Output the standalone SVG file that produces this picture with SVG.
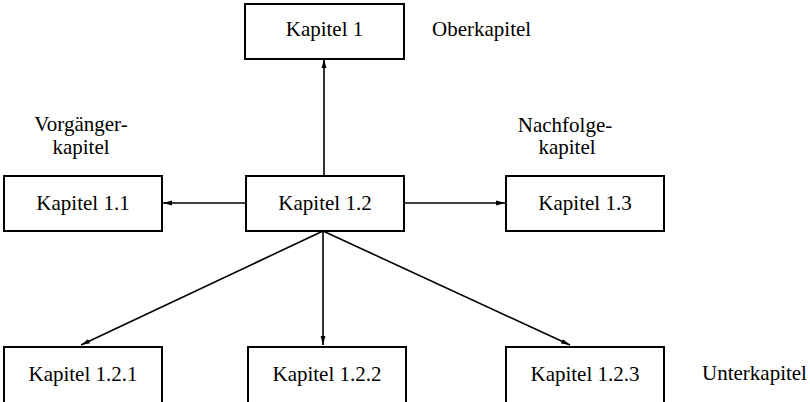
<svg xmlns="http://www.w3.org/2000/svg" width="810" height="402" viewBox="0 0 810 402">
<defs>
<marker id="ah" markerWidth="10" markerHeight="6" refX="9" refY="3" orient="auto" markerUnits="userSpaceOnUse">
<path d="M0,0.6 L9,3 L0,5.4 Z" fill="#000"/>
</marker>
</defs>
<g id="connectors" stroke="#000" stroke-width="1.6" fill="none" marker-end="url(#ah)">
<line x1="324" y1="176" x2="324" y2="59"/>
<line x1="246" y1="203" x2="163" y2="203"/>
<line x1="404" y1="203" x2="505" y2="203"/>
<line x1="323" y1="231" x2="81" y2="345"/>
<line x1="323" y1="231" x2="323" y2="345"/>
<line x1="323" y1="231" x2="570" y2="345"/>
</g>
<g font-family="Liberation Serif" font-size="21" fill="#000">
<g id="k1"><rect x="245" y="4" width="159" height="55" fill="#fff" stroke="#000" stroke-width="2"/><text text-anchor="middle" x="324.5" y="36">Kapitel 1</text></g>
<g id="k11"><rect x="4" y="176" width="158" height="55" fill="#fff" stroke="#000" stroke-width="2"/><text text-anchor="middle" x="83" y="210">Kapitel 1.1</text></g>
<g id="k12"><rect x="246" y="176" width="158" height="55" fill="#fff" stroke="#000" stroke-width="2"/><text text-anchor="middle" x="325" y="210">Kapitel 1.2</text></g>
<g id="k13"><rect x="506" y="176" width="158" height="55" fill="#fff" stroke="#000" stroke-width="2"/><text text-anchor="middle" x="585" y="210">Kapitel 1.3</text></g>
<g id="k121"><rect x="4" y="347" width="158" height="56" fill="#fff" stroke="#000" stroke-width="2"/><text text-anchor="middle" x="83" y="381">Kapitel 1.2.1</text></g>
<g id="k122"><rect x="248" y="347" width="158" height="56" fill="#fff" stroke="#000" stroke-width="2"/><text text-anchor="middle" x="327" y="381">Kapitel 1.2.2</text></g>
<g id="k123"><rect x="506" y="347" width="158" height="56" fill="#fff" stroke="#000" stroke-width="2"/><text text-anchor="middle" x="585" y="381">Kapitel 1.2.3</text></g>
<g id="labels">
<text x="432" y="36">Oberkapitel</text>
<text text-anchor="middle" x="81" y="131">Vorgänger-</text>
<text text-anchor="middle" x="81" y="154">kapitel</text>
<text text-anchor="middle" x="565" y="132">Nachfolge-</text>
<text text-anchor="middle" x="567" y="154">kapitel</text>
<text x="702" y="380">Unterkapitel</text>
</g>
</g>
</svg>
